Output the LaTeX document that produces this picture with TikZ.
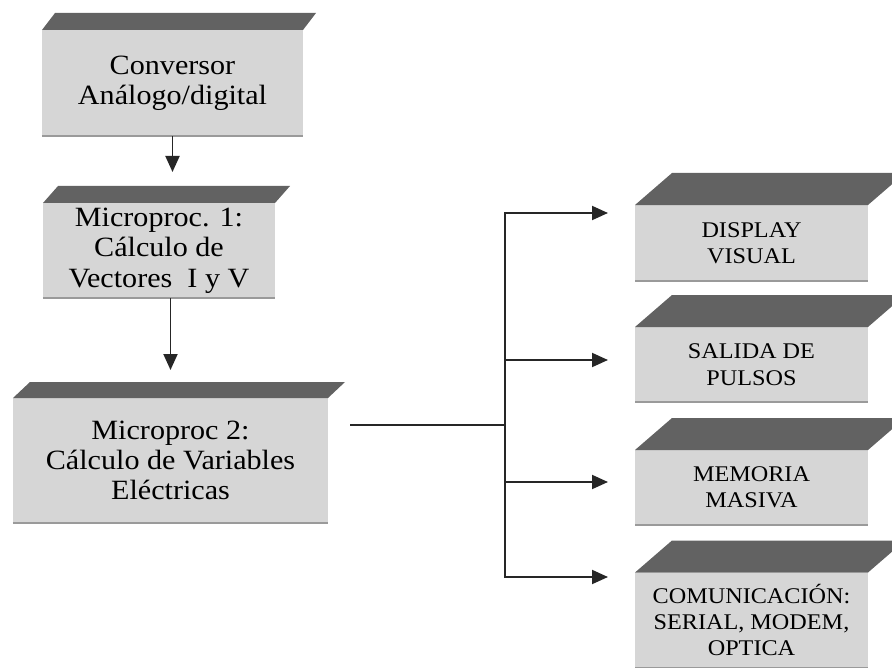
\documentclass[tikz,border=0pt]{standalone}
\usepackage{fontspec}
\setmainfont{Liberation Serif}[FakeStretch=1.08]
\usetikzlibrary{arrows.meta,calc}

\definecolor{facegray}{HTML}{D6D6D6}
\definecolor{slabgray}{HTML}{626262}
\definecolor{edgegray}{HTML}{9A9A9A}

\tikzset{
  front/.style={fill=facegray, inner sep=0pt, outer sep=0pt, align=center,
    text=black},
  bigtext/.style={font=\fontsize{28}{30.5}\selectfont},
  smalltext/.style={font=\fontsize{22.5}{26.5}\selectfont},
  slab/.style={fill=slabgray},
  flow/.style={draw=black!85, line width=1.9bp},
  tip/.style={flow, -{Triangle[length=16bp,width=14bp]}}
}

% dark bevelled top of a box: #1 node name, #2 horizontal skew, #3 height
\newcommand{\boxslab}[3]{%
  \fill[slab] (#1.north west) -- (#1.north east)
    -- ([shift={(#2,-#3)}]#1.north east)
    -- ([shift={(#2,-#3)}]#1.north west) -- cycle;
  \draw[edgegray, line width=1.2bp] (#1.south west) -- (#1.south east);
}

\begin{document}
\begin{tikzpicture}[x=1bp,y=-1bp]
\useasboundingbox (0,0) rectangle (892,670);

% processing chain on the left
\node[front, bigtext, minimum width=261bp, minimum height=106bp]
  (conv) at (172.5,83) {Conversor\\Análogo/digital};
\node[front, bigtext, minimum width=232bp, minimum height=95bp]
  (mp1) at (159,250.5) {Microproc. 1:\\Cálculo de\\Vectores\ \ I y V};
\node[front, bigtext, minimum width=315bp, minimum height=125bp]
  (mp2) at (170.5,460.5) {Microproc 2:\\Cálculo de Variables\\Eléctricas};

\boxslab{conv}{13}{17}
\boxslab{mp1}{15}{17}
\boxslab{mp2}{17}{16}

% output units on the right
\node[front, smalltext, minimum width=233bp, minimum height=76bp]
  (disp) at (751.5,243) {DISPLAY\\VISUAL};
\node[front, smalltext, minimum width=233bp, minimum height=75bp]
  (puls) at (751.5,364.5) {SALIDA DE\\PULSOS};
\node[front, smalltext, minimum width=233bp, minimum height=75bp]
  (mem) at (751.5,487.5) {MEMORIA\\MASIVA};
\node[front, smalltext, minimum width=233bp, minimum height=95bp]
  (com) at (751.5,620) {COMUNICACIÓN:\\SERIAL, MODEM,\\OPTICA};

\boxslab{disp}{37}{32}
\boxslab{puls}{37}{32}
\boxslab{mem}{37}{32}
\boxslab{com}{37}{32}

% vertical flow between the processing stages
\draw[tip, shorten >=31bp] (conv.south) -- (conv.south |- mp1.north);
\draw[tip, shorten >=28bp] (mp2.north |- mp1.south) -- (mp2.north);

% distribution bus
\coordinate (hub) at (505,425);
\coordinate (b1) at (505,213);
\coordinate (b2) at (505,360);
\coordinate (b3) at (505,482);
\coordinate (b4) at (505,577);

\draw[flow, shorten <=22bp] (mp2.east |- hub) -- (hub);
\draw[flow, line cap=rect] (b1) -- (b4);
\draw[tip, shorten >=27bp] (b1) -- (b1 -| disp.west);
\draw[tip, shorten >=27bp] (b2) -- (b2 -| puls.west);
\draw[tip, shorten >=27bp] (b3) -- (b3 -| mem.west);
\draw[tip, shorten >=27bp] (b4) -- (b4 -| com.west);
\end{tikzpicture}
\end{document}
